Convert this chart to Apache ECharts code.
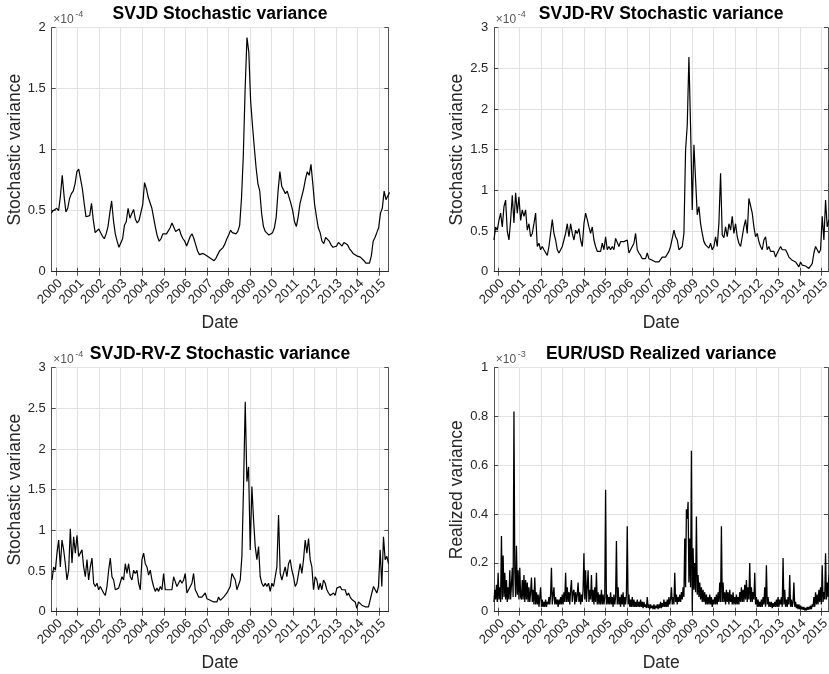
<!DOCTYPE html>
<html>
<head>
<meta charset="utf-8">
<script src="https://cdn.jsdelivr.net/npm/echarts@6/dist/echarts.min.js"></script>
<style>
  html, body { margin: 0; padding: 0; background: #ffffff; }
  #chart { width: 829px; height: 674px; }
</style>
</head>
<body>
<div id="chart"></div>
<script>
// Year tick labels on every date axis
const yearTicks = [2000, 2001, 2002, 2003, 2004, 2005, 2006, 2007, 2008, 2009, 2010, 2011, 2012, 2013, 2014, 2015];

// SVJD filtered variance, roughly monthly samples (units of 1e-4)
const svjdStart = 1999.78;
const svjdStep = 31 / 365.25;
const svjdVar = [
  0.48,0.5,0.5,0.52,0.5,0.62,0.79,0.62,0.49,0.52,
  0.6,0.64,0.66,0.72,0.82,0.84,0.76,0.68,0.56,0.45,
  0.44,0.46,0.56,0.42,0.32,0.32,0.35,0.32,0.29,0.27,
  0.31,0.37,0.48,0.58,0.42,0.31,0.25,0.2,0.19,0.27,
  0.38,0.41,0.52,0.44,0.45,0.51,0.43,0.4,0.42,0.41,
  0.55,0.73,0.68,0.61,0.6,0.52,0.44,0.36,0.29,0.25,
  0.27,0.31,0.31,0.31,0.32,0.36,0.4,0.39,0.33,0.34,
  0.35,0.3,0.27,0.25,0.21,0.25,0.29,0.31,0.27,0.22,
  0.17,0.14,0.13,0.15,0.15,0.13,0.12,0.11,0.1,0.09,
  0.11,0.14,0.17,0.18,0.2,0.23,0.27,0.3,0.34,0.32,
  0.33,0.31,0.33,0.38,0.6,0.95,1.5,1.92,1.8,1.4,
  1.2,1.02,0.85,0.72,0.66,0.48,0.37,0.33,0.32,0.3,
  0.29,0.32,0.36,0.45,0.66,0.82,0.7,0.69,0.64,0.66,
  0.67,0.56,0.5,0.41,0.37,0.45,0.56,0.62,0.68,0.76,
  0.82,0.79,0.88,0.72,0.55,0.45,0.36,0.32,0.25,0.23,
  0.28,0.29,0.25,0.22,0.2,0.19,0.21,0.24,0.25,0.21,
  0.24,0.25,0.22,0.19,0.17,0.15,0.15,0.13,0.12,0.12,
  0.11,0.09,0.07,0.06,0.07,0.13,0.25,0.28,0.32,0.36,
  0.48,0.52,0.66,0.59,0.62,0.65
];

// Four-weekly samples shared by the RV-based models (units of 1e-4)
const rvStart = 1999.814;
const rvStep = 0.0773;
const svjdRvVar = [
  0.39,0.55,0.51,0.63,0.72,0.55,0.8,0.88,0.5,0.39,
  0.63,0.94,0.6,0.97,0.72,0.92,0.63,0.76,0.68,0.76,
  0.51,0.59,0.43,0.47,0.59,0.72,0.31,0.35,0.27,0.31,
  0.27,0.25,0.2,0.31,0.47,0.64,0.47,0.39,0.27,0.23,
  0.27,0.31,0.39,0.47,0.59,0.43,0.59,0.47,0.39,0.51,
  0.47,0.53,0.39,0.31,0.59,0.72,0.64,0.55,0.47,0.55,
  0.39,0.31,0.25,0.27,0.25,0.35,0.27,0.43,0.27,0.31,
  0.27,0.31,0.27,0.41,0.39,0.31,0.37,0.35,0.37,0.35,
  0.39,0.23,0.27,0.31,0.35,0.47,0.27,0.23,0.2,0.16,
  0.14,0.16,0.23,0.16,0.14,0.14,0.13,0.12,0.11,0.12,
  0.13,0.18,0.16,
  0.18,0.2,0.25,0.31,0.41,0.51,0.43,
  0.39,0.27,0.27,0.31,0.47,1.5,1.8,2.64,1.78,0.76,
  1.56,1.13,0.7,0.8,0.59,0.47,0.37,0.33,0.31,0.29,
  0.35,0.27,0.31,0.43,0.31,0.6,1.21,0.45,0.42,0.55,
  0.43,0.59,0.51,0.68,0.47,0.59,0.43,0.35,0.31,0.43,
  0.55,0.64,0.47,0.9,0.9,0.72,0.55,0.43,0.47,0.37,
  0.31,0.27,0.39,0.43,0.27,0.31,0.25,0.23,0.25,0.18,
  0.23,0.27,0.31,0.27,0.29,0.27,0.23,0.18,0.16,0.14,
  0.15,0.12,0.14,0.06,0.12,0.08,0.06,0.07,0.05,0.04,
  0.05,0.1,0.23,0.31,0.27,0.23,0.27,0.68,0.39,0.88,
  0.55,0.64
];

const svjdRvzVar = [
  0.39,0.55,0.51,0.72,0.88,0.55,0.88,0.76,0.59,0.39,
  0.51,1.02,0.6,0.92,0.72,0.94,0.68,0.72,0.76,0.55,
  0.43,0.64,0.39,0.55,0.66,0.35,0.31,0.35,0.27,0.31,
  0.27,0.23,0.2,0.31,0.51,0.66,0.43,0.39,0.27,0.25,
  0.29,0.31,0.43,0.39,0.59,0.47,0.59,0.43,0.39,0.51,
  0.47,0.51,0.35,0.27,0.64,0.72,0.59,0.55,0.45,0.51,
  0.39,0.31,0.25,0.29,0.25,0.31,0.27,0.47,0.27,0.29,
  0.27,0.29,0.27,0.43,0.37,0.31,0.35,0.39,0.35,0.39,
  0.47,0.23,0.27,0.31,0.35,0.47,0.27,0.23,0.18,0.16,
  0.18,0.16,0.23,0.16,0.14,0.14,0.13,0.12,0.11,0.12,
  0.18,0.14,0.16,
  0.18,0.2,0.23,0.27,0.31,0.47,0.43,
  0.39,0.27,0.27,0.39,0.68,1.55,2.58,1.6,1.78,0.76,
  1.54,1.13,0.8,0.64,0.8,0.43,0.35,0.31,0.35,0.31,
  0.35,0.25,0.35,0.31,0.43,0.55,1.19,0.47,0.39,0.47,
  0.55,0.43,0.59,0.64,0.51,0.43,0.31,0.35,0.47,0.59,
  0.47,0.64,0.88,0.72,0.9,0.64,0.55,0.27,0.43,0.39,
  0.27,0.35,0.27,0.39,0.35,0.27,0.23,0.2,0.18,0.23,
  0.2,0.29,0.27,0.31,0.27,0.25,0.27,0.2,0.23,0.18,
  0.15,0.16,0.12,0.04,0.12,0.1,0.08,0.07,0.06,0.05,
  0.06,0.08,0.23,0.31,0.27,0.23,0.31,0.76,0.31,0.92,
  0.64,0.68,0.59
];

// EUR/USD realized variance, two-weekly samples (units of 1e-3)
const rvObsStart = 1999.814;
const rvObsStep = 0.03865;
const eurUsdRv = [
  0.04,0.09,0.05,0.11,0.04,0.16,0.05,0.1,0.04,0.31,
  0.05,0.23,0.06,0.16,0.05,0.13,0.04,0.1,0.05,0.17,
  0.05,0.11,0.18,0.06,0.82,0.17,0.06,0.27,0.07,0.17,
  0.05,0.18,0.06,0.05,0.13,0.05,0.15,0.04,0.13,0.05,
  0.12,0.04,0.1,0.04,0.08,0.14,0.04,0.09,0.03,0.14,
  0.03,0.08,0.03,0.07,0.02,0.06,0.1,0.02,0.05,0.02,
  0.04,0.02,0.05,0.02,0.04,0.03,0.06,0.03,0.07,0.18,
  0.03,0.07,0.1,0.03,0.06,0.03,0.05,0.02,0.05,0.03,
  0.06,0.03,0.07,0.03,0.08,0.04,0.16,0.04,0.1,0.04,
  0.08,0.03,0.09,0.13,0.04,0.08,0.09,0.03,0.08,0.04,
  0.07,0.12,0.04,0.08,0.03,0.07,0.04,0.09,0.24,0.05,
  0.17,0.04,0.1,0.17,0.04,0.09,0.05,0.15,0.04,0.09,
  0.03,0.1,0.04,0.16,0.03,0.08,0.03,0.07,0.03,0.09,
  0.03,0.07,0.03,0.06,0.5,0.03,0.07,0.03,0.06,0.03,
  0.08,0.03,0.06,0.02,0.07,0.03,0.06,0.29,0.03,0.1,
  0.03,0.06,0.02,0.07,0.03,0.08,0.02,0.06,0.03,0.07,
  0.35,0.03,0.07,0.02,0.05,0.02,0.06,0.02,0.05,0.02,
  0.04,0.02,0.05,0.02,0.04,0.02,0.05,0.02,0.04,0.015,
  0.04,0.02,0.03,0.015,0.06,0.015,0.03,0.01,0.03,0.015,
  0.025,0.01,0.03,0.01,0.025,0.015,0.03,0.01,0.03,0.015,
  0.04,0.015,0.035,0.02,0.05,0.02,0.04,0.02,0.05,0.02,
  0.06,0.03,0.05,0.1,0.03,0.06,0.03,0.16,0.04,0.07,
  0.03,0.06,0.04,0.07,0.04,0.08,0.05,0.1,0.06,0.3,
  0.1,0.42,0.38,0.45,0.12,0.3,0.1,0.66,0.0,0.26,
  0.09,0.2,0.08,0.39,0.07,0.15,0.06,0.12,0.05,0.1,
  0.04,0.09,0.04,0.08,0.03,0.07,0.03,0.06,0.03,0.07,
  0.03,0.06,0.02,0.05,0.03,0.06,0.03,0.07,0.03,0.08,
  0.04,0.12,0.04,0.35,0.04,0.12,0.04,0.08,0.03,0.09,
  0.04,0.08,0.03,0.09,0.04,0.07,0.03,0.08,0.03,0.06,
  0.03,0.07,0.03,0.06,0.03,0.08,0.04,0.1,0.04,0.09,
  0.04,0.11,0.05,0.13,0.04,0.1,0.05,0.2,0.04,0.1,
  0.04,0.08,0.05,0.16,0.03,0.06,0.02,0.05,0.02,0.04,
  0.02,0.05,0.02,0.06,0.03,0.1,0.02,0.19,0.03,0.06,
  0.02,0.04,0.02,0.04,0.015,0.035,0.02,0.04,0.02,0.05,
  0.02,0.06,0.02,0.05,0.03,0.06,0.02,0.22,0.03,0.09,
  0.02,0.05,0.02,0.06,0.03,0.15,0.02,0.05,0.02,0.04,
  0.12,0.02,0.04,0.015,0.03,0.01,0.03,0.01,0.025,0.01,
  0.02,0.008,0.02,0.005,0.015,0.005,0.02,0.008,0.02,0.01,
  0.025,0.01,0.03,0.02,0.06,0.02,0.08,0.03,0.07,0.03,
  0.09,0.04,0.1,0.03,0.19,0.04,0.08,0.05,0.24,0.05,
  0.12,0.06,0.15
];

// Pair each value with its sample date (decimal years)
function toSeries(start, step, values) {
  return values.map((v, i) => [start + i * step, v]);
}

const FONT = '"Liberation Sans", Arial, Helvetica, sans-serif';
const INK = '#262626';
const GRID_COLOR = '#e2e2e2';

const panels = [
  { title: 'SVJD Stochastic variance', exponent: '-4', yName: 'Stochastic variance',
    yMax: 2, yStep: 0.5, left: 51.7, top: 27.7, width: 336.6, height: 244, lineWidth: 1.2,
    xMin: 1999.80, xMax: 2015.42, data: toSeries(svjdStart, svjdStep, svjdVar) },
  { title: 'SVJD-RV Stochastic variance', exponent: '-4', yName: 'Stochastic variance',
    yMax: 3, yStep: 0.5, left: 494.3, top: 27.7, width: 333.7, height: 244, lineWidth: 1.2,
    xMin: 1999.83, xMax: 2015.31, data: toSeries(rvStart, rvStep, svjdRvVar) },
  { title: 'SVJD-RV-Z Stochastic variance', exponent: '-4', yName: 'Stochastic variance',
    yMax: 3, yStep: 0.5, left: 51.7, top: 367.7, width: 336.6, height: 244, lineWidth: 1.2,
    xMin: 1999.80, xMax: 2015.42, data: toSeries(rvStart, rvStep, svjdRvzVar) },
  { title: 'EUR/USD Realized variance', exponent: '-3', yName: 'Realized variance',
    yMax: 1, yStep: 0.2, left: 494.3, top: 367.7, width: 333.7, height: 244, lineWidth: 1.3,
    xMin: 1999.83, xMax: 2015.31, data: toSeries(rvObsStart, rvObsStep, eurUsdRv) }
];

const grids = [], xAxes = [], yAxes = [], series = [], graphics = [];
const axisLine = { show: true, lineStyle: { color: INK, width: 0.8 } };
const tickStyle = { color: INK, width: 0.8 };

panels.forEach((p, k) => {
  grids.push({ left: p.left, top: p.top, width: p.width, height: p.height,
               containLabel: false, outerBoundsMode: 'none' });

  xAxes.push({
    gridIndex: k, type: 'value', position: 'bottom', min: p.xMin, max: p.xMax,
    axisLine: axisLine,
    axisTick: { show: true, inside: true, length: 4, customValues: yearTicks, lineStyle: tickStyle },
    axisLabel: { customValues: yearTicks, rotate: 45, margin: 14, padding: [0, -6, 0, 0],
                 fontSize: 13, color: INK, fontFamily: FONT, formatter: v => String(v) },
    splitLine: { show: true, lineStyle: { color: GRID_COLOR, width: 1 } },
    name: 'Date', nameLocation: 'middle', nameGap: 42,
    nameTextStyle: { fontSize: 17.5, color: INK, fontFamily: FONT }
  });
  xAxes.push({
    gridIndex: k, type: 'value', position: 'top', min: p.xMin, max: p.xMax,
    axisLine: axisLine,
    axisTick: { show: true, inside: true, length: 4, customValues: yearTicks, lineStyle: tickStyle },
    axisLabel: { show: false }, splitLine: { show: false }
  });

  yAxes.push({
    gridIndex: k, type: 'value', position: 'left', min: 0, max: p.yMax, interval: p.yStep,
    axisLine: axisLine,
    axisTick: { show: true, inside: true, length: 4, lineStyle: tickStyle },
    axisLabel: { margin: 6, fontSize: 13, color: INK, fontFamily: FONT },
    splitLine: { show: true, lineStyle: { color: GRID_COLOR, width: 1 } },
    name: p.yName, nameLocation: 'middle', nameGap: 25,
    nameTextStyle: { fontSize: 17.5, color: INK, fontFamily: FONT }
  });
  yAxes.push({
    gridIndex: k, type: 'value', position: 'right', min: 0, max: p.yMax, interval: p.yStep,
    axisLine: axisLine,
    axisTick: { show: true, inside: true, length: 4, lineStyle: tickStyle },
    axisLabel: { show: false }, splitLine: { show: false }
  });

  series.push({
    type: 'line', xAxisIndex: 2 * k, yAxisIndex: 2 * k, data: p.data,
    symbol: 'none', showSymbol: false, silent: true, clip: true,
    lineStyle: { color: '#000000', width: p.lineWidth }
  });

  // Panel title
  graphics.push({
    type: 'text', x: p.left + p.width / 2, y: p.top - 13.5,
    style: { text: p.title, font: 'bold 17.5px ' + FONT, fill: '#000000',
             textAlign: 'center', textVerticalAlign: 'middle', align: 'center', verticalAlign: 'middle' }
  });
  // Axis exponent: ×10^n
  graphics.push({
    type: 'text', x: p.left + 1.5, y: p.top - 8.5,
    style: { text: '\u00d710', font: '12px ' + FONT, fill: '#555555',
             textAlign: 'left', textVerticalAlign: 'middle', align: 'left', verticalAlign: 'middle' }
  });
  graphics.push({
    type: 'text', x: p.left + 23.5, y: p.top - 13.5,
    style: { text: p.exponent, font: '9px ' + FONT, fill: '#555555',
             textAlign: 'left', textVerticalAlign: 'middle', align: 'left', verticalAlign: 'middle' }
  });
});

const chart = echarts.init(document.getElementById('chart'), null, { renderer: 'canvas' });
chart.setOption({
  animation: false,
  backgroundColor: '#ffffff',
  grid: grids,
  xAxis: xAxes,
  yAxis: yAxes,
  series: series,
  graphic: graphics
});
</script>
</body>
</html>
